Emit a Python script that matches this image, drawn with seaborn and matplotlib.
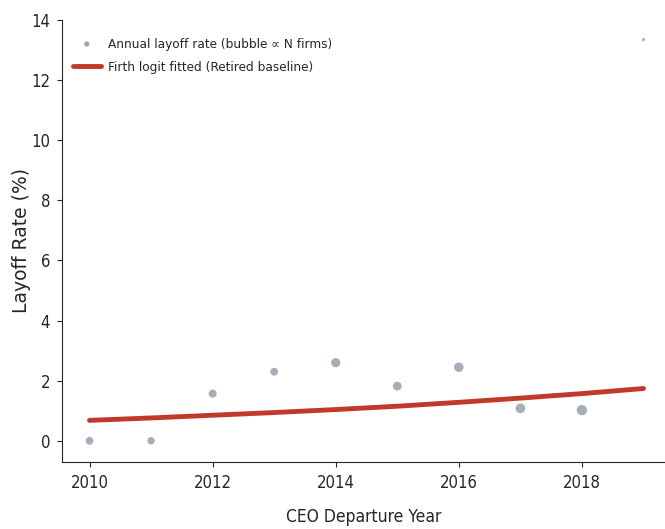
import matplotlib.pyplot as plt
import seaborn as sns
import pandas as pd
import numpy as np

years = [2010, 2011, 2012, 2013, 2014, 2015, 2016, 2017, 2018, 2019]
layoff_rate = [0.0, 0.0, 1.57, 2.3, 2.6, 1.82, 2.45, 1.08, 1.02, 13.35]
n_firms = [38, 34, 40, 38, 52, 48, 56, 58, 66, 6]
fit_rate = [0.68, 0.76, 0.85, 0.94, 1.04, 1.15, 1.28, 1.42, 1.57, 1.74]

df = pd.DataFrame({"year": years, "rate": layoff_rate, "n": n_firms})
fit = pd.DataFrame({"year": years, "rate": fit_rate})

sns.set_style("ticks")
plt.rcParams["font.stretch"] = "condensed"
fig, ax = plt.subplots(figsize=(6.65, 5.29), dpi=100)

sns.scatterplot(data=df, x="year", y="rate", size="n", sizes=(5, 55),
                color="#9aa6b4", alpha=0.9, edgecolor="none", ax=ax,
                legend=False)
ax.scatter([], [], s=14, color="#9aa6b4", edgecolor="none",
           label="Annual layoff rate (bubble \u221d N firms)")
sns.lineplot(data=fit, x="year", y="rate", color="#c0392b", linewidth=3.5,
             ax=ax, label="Firth logit fitted (Retired baseline)")

ax.set_xlim(2009.55, 2019.35)
ax.set_ylim(-0.7, 14)
ax.set_xticks([2010, 2012, 2014, 2016, 2018])
ax.set_yticks(range(0, 15, 2))
ax.tick_params(labelsize=12, pad=5)
ax.set_xlabel("CEO Departure Year", fontsize=12.5, labelpad=12)
ax.set_ylabel("Layoff Rate (%)", fontsize=13.5, fontstretch="normal")
ax.yaxis.set_label_coords(-0.051, 0.5)
ax.legend(loc="upper left", bbox_to_anchor=(0.0, 0.985), frameon=False,
          fontsize=9.7, handlelength=2.1, handletextpad=0.5,
          labelspacing=0.75, borderaxespad=0.4)
sns.despine()

plt.subplots_adjust(left=0.093, right=1.0, top=0.962, bottom=0.127)
plt.savefig("out.png", dpi=100)
